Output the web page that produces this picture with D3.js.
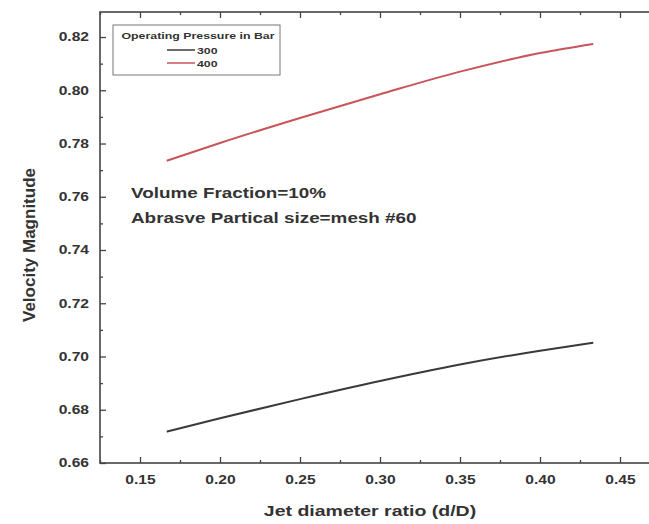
<!DOCTYPE html>
<html>
<head>
<meta charset="utf-8">
<script src="https://cdn.jsdelivr.net/npm/d3@7"></script>
<style>
  body { margin: 0; background: #fff; }
  svg { display: block; font-family: "Liberation Sans", Arial, sans-serif; }
  .axis text { font-weight: bold; font-size: 12px; fill: #333; }
</style>
</head>
<body>
<svg id="chart" width="649" height="524"></svg>
<script>
// jet diameter ratio values
var ratio = [0.1667, 0.20, 0.25, 0.30, 0.35, 0.40, 0.4333];
var vel300 = [0.6718, 0.6768, 0.6840, 0.6908, 0.6970, 0.7022, 0.7052];
var vel400 = [0.7735, 0.7802, 0.7896, 0.7985, 0.8070, 0.8140, 0.8174];
var xTicks = [0.15, 0.20, 0.25, 0.30, 0.35, 0.40, 0.45];
var yTicks = [0.66, 0.68, 0.70, 0.72, 0.74, 0.76, 0.78, 0.80, 0.82];
var seriesNames = ['300', '400'];
var seriesColors = ['#3a3a3a', '#c8555a'];

var svg = d3.select('#chart'),
	plotL = 100, plotT = 12, plotR = 660, plotB = 463,
	stretchK = 1.3;   // the source picture is wider than tall, text looks stretched

// widen text horizontally keeping its height
function stretch(sel, k){
	sel.each(function(){
		var w = this.getComputedTextLength();
		d3.select(this).attr('textLength', w * k).attr('lengthAdjust', 'spacingAndGlyphs');
	});
}

var x = d3.scaleLinear().domain([0.125, 0.475]).range([plotL, plotR]);
var y = d3.scaleLinear().domain([0.66, 0.8294]).range([plotB, plotT]);

// minor ticks halfway between majors
var xMinor = d3.range(0.125, 0.476, 0.05).map(function(d){ return +d.toFixed(3); });
var yMinor = yTicks.slice(0, -1).map(function(d){ return d + 0.01; });

// frame
svg.append('rect')
	.attr('x', plotL).attr('y', plotT)
	.attr('width', plotR - plotL).attr('height', plotB - plotT)
	.style('fill', 'none').style('stroke', '#444').style('stroke-width', 1.6);

var gx = svg.append('g').attr('class', 'axis').attr('transform', 'translate(0,' + plotB + ')')
	.call(d3.axisBottom(x).tickValues(xTicks).tickFormat(d3.format('.2f')).tickSize(-6).tickPadding(12));
gx.append('g').call(d3.axisBottom(x).tickValues(xMinor).tickFormat('').tickSize(-3));

var gy = svg.append('g').attr('class', 'axis').attr('transform', 'translate(' + plotL + ',0)')
	.call(d3.axisLeft(y).tickValues(yTicks).tickFormat(d3.format('.2f')).tickSize(-6).tickPadding(11));
gy.append('g').call(d3.axisLeft(y).tickValues(yMinor).tickFormat('').tickSize(-3));

var gt = svg.append('g').attr('class', 'axis').attr('transform', 'translate(0,' + plotT + ')')
	.call(d3.axisTop(x).tickValues(xTicks).tickFormat('').tickSize(-6));
gt.append('g').call(d3.axisTop(x).tickValues(xMinor).tickFormat('').tickSize(-3));

svg.selectAll('.axis path').remove();
svg.selectAll('.axis line').style('stroke', '#444').style('stroke-width', 1.3);
gx.selectAll('.tick text').call(stretch, stretchK);
gy.selectAll('.tick text').call(stretch, stretchK);

// lines
var line = d3.line()
	.x(function(d){ return x(d[0]); })
	.y(function(d){ return y(d[1]); })
	.curve(d3.curveMonotoneX);

[vel300, vel400].forEach(function(vals, i){
	svg.append('path')
		.datum(ratio.map(function(r, j){ return [r, vals[j]]; }))
		.attr('d', line)
		.style('fill', 'none').style('stroke', seriesColors[i]).style('stroke-width', 2);
});

// axis titles
svg.append('text').text('Jet diameter ratio (d/D)')
	.attr('x', 370).attr('y', 516).attr('text-anchor', 'middle')
	.style('font-weight', 'bold').style('font-size', '15px').style('fill', '#333')
	.call(stretch, stretchK);
svg.append('text').text('Velocity Magnitude')
	.attr('transform', 'translate(35,245)rotate(-90)').attr('text-anchor', 'middle')
	.style('font-weight', 'bold').style('font-size', '17px').style('fill', '#333');

// annotation
var note = svg.append('g').style('font-weight', 'bold').style('font-size', '14.5px').style('fill', '#333');
note.append('text').text('Volume Fraction=10%').attr('x', 131).attr('y', 198);
note.append('text').text('Abrasve Partical size=mesh #60').attr('x', 131).attr('y', 223);
note.selectAll('text').call(stretch, stretchK);

// legend
var lg = svg.append('g').attr('transform', 'translate(113,25)');
lg.append('rect').attr('width', 167).attr('height', 50)
	.style('fill', '#fff').style('stroke', '#777').style('stroke-width', 1);
lg.append('text').text('Operating Pressure in Bar')
	.attr('x', 85).attr('y', 14).attr('text-anchor', 'middle')
	.style('font-weight', 'bold').style('font-size', '9.5px').style('fill', '#333')
	.call(stretch, stretchK);
seriesNames.forEach(function(name, i){
	var yy = 25 + i * 13;
	lg.append('line').attr('x1', 54).attr('x2', 82).attr('y1', yy).attr('y2', yy)
		.style('stroke', seriesColors[i]).style('stroke-width', 1.5);
	lg.append('text').text(name).attr('x', 84).attr('y', yy + 3.5)
		.style('font-weight', 'bold').style('font-size', '9.5px').style('fill', '#333')
		.call(stretch, stretchK);
});
</script>
</body>
</html>
